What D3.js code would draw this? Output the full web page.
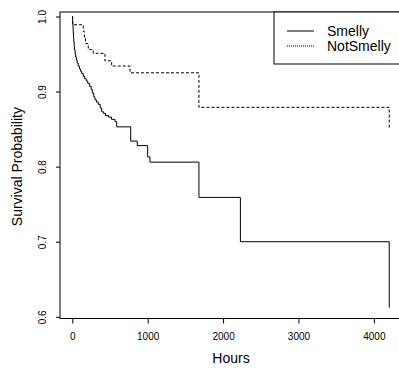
<!DOCTYPE html>
<head>
	<meta charset="utf-8">
	<title>Survival curves</title>
	<script src="https://d3js.org/d3.v7.min.js"></script>
	<style>
	body { margin:0; background:#fff; }
	svg { font-family: "Liberation Sans", Arial, sans-serif; }
	.box { fill:none; stroke:#000; stroke-width:1px; }
	.smellyline { fill:none; stroke:#000; stroke-width:1px; }
	.notsmellyline { fill:none; stroke:#000; stroke-width:1px; stroke-dasharray:3,2; }
	.axis text { font-size:10px; fill:#000; }
	.axis line { stroke:#000; }
	.title { font-size:14px; fill:#000; }
	</style>
</head>
<body>
<div class="chartContainer"></div>
<script>
	//Kaplan-Meier steps (hours, survival probability after the step)
	var smellyHours=[0,3,6,9,12,16,20,25,30,38,45,55,65,78,95,110,125,146,165,185,205,230,250,265,285,300,320,345,370,390,415,440,480,520,566,589,775,862,1000,1030,1680,2230,4204];
	var smellySurv=[1.0,0.995,0.99,0.985,0.978,0.972,0.966,0.96,0.955,0.95,0.946,0.942,0.938,0.934,0.93,0.927,0.924,0.92,0.917,0.914,0.911,0.907,0.903,0.898,0.893,0.889,0.886,0.883,0.878,0.873,0.871,0.868,0.866,0.863,0.86,0.853,0.834,0.828,0.813,0.806,0.759,0.700,0.612];

	var notSmellyHours=[0,5,146,160,175,212,278,433,522,766,1680,4204];
	var notSmellySurv=[1.0,0.989,0.98,0.972,0.964,0.956,0.951,0.941,0.934,0.925,0.879,0.85];

	var xTicks=[0,1000,2000,3000,4000];
	var yTicks=[0.6,0.7,0.8,0.9,1.0];
	var legendLabels=["Smelly","NotSmelly"];

	var totalWidth=399, totalHeight=368;
	var box={left:60, right:404, top:12, bottom:318.5};

	var svg=d3.select(".chartContainer").append("svg")
		.attr("width",totalWidth)
		.attr("height",totalHeight);

	var x=d3.scaleLinear().domain([-163,4400]).range([box.left,box.right]);
	var y=d3.scaleLinear().domain([0.5977,1.006]).range([box.bottom,box.top]);

	var toPoints=function(hours,surv) {
		return hours.map(function(h,i) { return {h:h, s:surv[i]}; });
	}

	var step=d3.line()
		.curve(d3.curveStepAfter)
		.x(function(d) { return x(d.h); })
		.y(function(d) { return y(d.s); });

	svg.append("path")
		.attr("class","smellyline")
		.attr("d",step(toPoints(smellyHours,smellySurv)));

	svg.append("path")
		.attr("class","notsmellyline")
		.attr("d",step(toPoints(notSmellyHours,notSmellySurv)));

	//axes, R style
	var xAxis=d3.axisBottom(x).tickValues(xTicks).tickSize(5).tickPadding(9).tickFormat(d3.format("d"));
	var yAxis=d3.axisLeft(y).tickValues(yTicks).tickSize(4).tickFormat(d3.format(".1f"));

	var gx=svg.append("g")
		.attr("class","axis")
		.attr("transform","translate(0,"+box.bottom+")")
		.call(xAxis);
	gx.select(".domain").remove();

	var gy=svg.append("g")
		.attr("class","axis")
		.attr("transform","translate("+box.left+",0)")
		.call(yAxis);
	gy.select(".domain").remove();
	gy.selectAll("text")
		.attr("text-anchor","middle")
		.attr("x",0)
		.attr("y",-18)
		.attr("dy","0.35em")
		.attr("transform","rotate(-90)");

	svg.append("rect")
		.attr("class","box")
		.attr("x",box.left)
		.attr("y",box.top)
		.attr("width",box.right-box.left)
		.attr("height",box.bottom-box.top);

	svg.append("text")
		.attr("class","title")
		.attr("x",231)
		.attr("y",358)
		.attr("dy","0.35em")
		.attr("text-anchor","middle")
		.text("Hours");

	svg.append("text")
		.attr("class","title")
		.attr("transform","translate(17,"+((y(0.6)+y(1.0))/2)+") rotate(-90)")
		.attr("dy","0.35em")
		.attr("text-anchor","middle")
		.text("Survival Probability");

	//legend
	var legend=svg.append("g");
	legend.append("rect")
		.attr("class","box")
		.attr("x",274)
		.attr("y",box.top)
		.attr("width",140)
		.attr("height",52)
		.style("fill","#fff");

	var rows=legend.selectAll(".row")
		.data(legendLabels)
		.enter().append("g")
		.attr("class","row")
		.attr("transform",function(d,i) { return "translate(0,"+(31+i*15)+")"; });

	rows.append("line")
		.attr("x1",287).attr("x2",314)
		.attr("y1",0).attr("y2",0)
		.attr("stroke","#000")
		.attr("stroke-dasharray",function(d,i) { return i?"1,1":null; });

	rows.append("text")
		.attr("class","title")
		.attr("x",327)
		.attr("dy","0.35em")
		.text(function(d) { return d; });
</script>
</body>
</html>
